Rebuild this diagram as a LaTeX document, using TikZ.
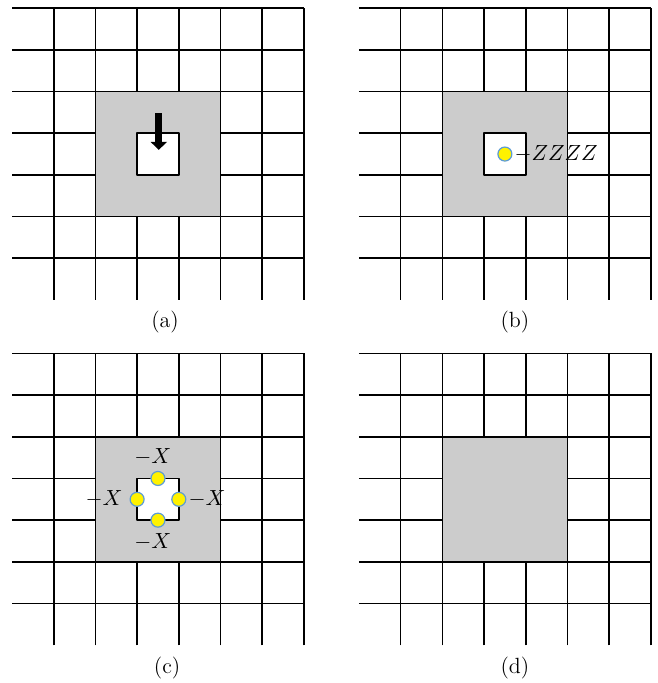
\documentclass[tikz,border=0pt]{standalone}
\usepackage{amsmath}
\usepackage{tikz}
\usetikzlibrary{arrows.meta,positioning}

\definecolor{siteblue}{RGB}{91,155,213}

\begin{document}
\begin{tikzpicture}[
						x=20.85pt,
						y=20.85pt,
						line join=round,
						draw=black,
						every node/.style={font=\fontsize{11}{13}\selectfont},
						gridline/.style={line width=0.8pt},
						block/.style={fill=gray!40, draw=black, line width=0.8pt},
						hole/.style={fill=white, draw=black, line width=0.8pt},
						site/.style={circle, fill=yellow, draw=siteblue, line width=0.6pt, minimum size=7pt, inner sep=0pt},
						tag/.style={inner sep=3.3pt},
						caption/.style={inner sep=0pt}
						]
						
						\useasboundingbox (-0.288,-9.185) rectangle (15.49,7.194);
						
						% Lattice and block in each of the four panels
						\foreach \sx/\sy in {0/0, 8.32/0, 0/-8.28, 8.32/-8.28}
						{
							\begin{scope}[shift={(\sx,\sy)}]
								\foreach \y in {1,...,7}
								\draw[gridline] (0,\y) -- (7,\y);
								\foreach \x in {1,...,7}
								\draw[gridline] (\x,0) -- (\x,7);
								
								\filldraw[block] (2,2) rectangle (5,5);
							\end{scope}
						}
						
						% (a) vacancy with falling atom
						\begin{scope}[shift={(0,0)}]
							\filldraw[hole] (3,3) rectangle (4,4);
							\coordinate (fallstart) at (3.52,4.48);
							\coordinate (fallend) at (3.52,3.6);
							\draw[line width=3.6pt, -{Triangle[width=8pt, length=4pt]}] (fallstart) -- (fallend);
							\node[caption] (capa) at (3.67,-0.53) {(a)};
						\end{scope}
						
						% (b) atom in the vacancy
						\begin{scope}[shift={(8.32,0)}]
							\filldraw[hole] (3,3) rectangle (4,4);
							\node[site] (zsite) at (3.5,3.5) {};
							\node[tag, right=-2.4pt of zsite] (zlabel) {$-ZZZZ$};
							\node[caption] (capb) at (3.74,-0.53) {(b)};
						\end{scope}
						
						% (c) atoms on the vacancy edges
						\begin{scope}[shift={(0,-8.28)}]
							\filldraw[hole] (3,3) rectangle (4,4);
							\node[site] (xtop) at (3.5,4) {};
							\node[site] (xleft) at (3,3.5) {};
							\node[site] (xright) at (4,3.5) {};
							\node[site] (xbottom) at (3.5,3) {};
							
							\node[tag, above=-0.5pt of xtop, xshift=-2.6pt] (ltop) {$-X$};
							\node[tag, left=0pt of xleft] (lleft) {$-X$};
							\node[tag, right=-2.4pt of xright] (lright) {$-X$};
							\node[tag, below=-0.5pt of xbottom, xshift=-2.6pt] (lbottom) {$-X$};
							\node[caption] (capc) at (3.72,-0.55) {(c)};
						\end{scope}
						
						% (d) filled block
						\begin{scope}[shift={(8.32,-8.28)}]
							\node[caption] (capd) at (3.74,-0.55) {(d)};
						\end{scope}
						
					\end{tikzpicture}
\end{document}
